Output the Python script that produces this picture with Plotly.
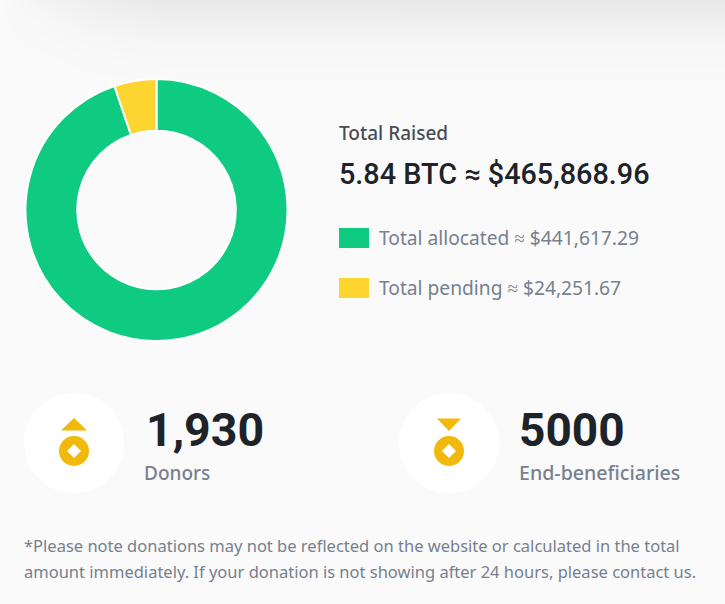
import plotly.graph_objects as go

# donut
labels = ['Total allocated', 'Total pending']
amounts = [441617.29, 24251.67]
colors = ['#0ecb81', '#fdd430']

# page shading at the top, grey levels
shade_x = [0, 40, 90, 160, 725]
shade_y = [0, 12, 25, 40, 60, 85]
shade_z = [
    [250, 244, 238, 233, 232],
    [250, 246, 241, 237, 236],
    [250, 248, 244, 241, 240],
    [250, 249, 247, 245, 245],
    [250, 250, 249, 248, 248],
    [250, 250, 250, 250, 250],
]

title = 'Total Raised'
total = '5.84 BTC ≈ $465,868.96'
legend_text = ['Total allocated ≈ $441,617.29', 'Total pending ≈ $24,251.67']
donors = '1,930'
donors_label = 'Donors'
benef = '5000'
benef_label = 'End-beneficiaries'
note_lines = ['*Please note donations may not be reflected on the website or calculated in the total',
              'amount immediately. If your donation is not showing after 24 hours, please contact us.']

W, H = 725, 604
BODY = 'Noto Sans'
HEAD = 'Roboto'
GOLD = '#f0b90b'
DARK = '#1e2329'
GREY = '#76808f'

fig = go.Figure()
fig.add_trace(go.Heatmap(x=shade_x, y=shade_y, z=shade_z, zmin=0, zmax=255, zsmooth='best',
                         colorscale=[[0, 'rgb(0,0,0)'], [1, 'rgb(255,255,255)']],
                         showscale=False, hoverinfo='skip'))
fig.add_trace(go.Pie(labels=labels, values=amounts, hole=0.605, sort=False, direction='clockwise',
                     rotation=0, textinfo='none', showlegend=False,
                     marker=dict(colors=colors, line=dict(color='white', width=2)),
                     domain=dict(x=[25.5 / W, 287.5 / W], y=[1 - 341 / H, 1 - 79 / H])))


def text(x, y, s, size, color, font=BODY, weight=400):
    fig.add_annotation(x=x, y=y, text=s, xref='x', yref='y', xanchor='left', yanchor='middle',
                       showarrow=False, align='left', borderpad=0,
                       font=dict(family=font, size=size, color=color, weight=weight))


text(338, 133, title, 19, '#474d57', weight=500)
text(337.5, 174, total, 28.8, DARK, font=HEAD, weight=500)
text(378, 237.5, legend_text[0], 19.2, GREY)
text(378, 287.5, legend_text[1], 19.2, GREY)
text(145, 430, donors, 46.5, DARK, font=HEAD, weight=700)
text(143, 473, donors_label, 19, GREY, weight=500)
text(518, 430, benef, 46, DARK, font=HEAD, weight=700)
text(518, 472.5, benef_label, 19.6, GREY, weight=500)
text(23, 545, note_lines[0], 16.5, GREY)
text(23, 571, note_lines[1], 16.5, GREY)

# legend swatches
fig.add_shape(type='rect', x0=339, x1=369, y0=228, y1=248, fillcolor=colors[0], line_width=0)
fig.add_shape(type='rect', x0=339, x1=369, y0=278, y1=298, fillcolor=colors[1], line_width=0)

# stat icons
for cx in (74, 449):
    fig.add_shape(type='circle', x0=cx - 50, x1=cx + 50, y0=393, y1=493, fillcolor='white', line_width=0)
    fig.add_shape(type='circle', x0=cx - 15, x1=cx + 15, y0=436, y1=466, fillcolor=GOLD, line_width=0)
    fig.add_shape(type='path', path=f'M {cx} 444 L {cx + 7} 451 L {cx} 458 L {cx - 7} 451 Z',
                  fillcolor='white', line_width=0)
fig.add_shape(type='path', path='M 61 430.5 L 87 430.5 L 74 418 Z', fillcolor=GOLD, line_width=0)
fig.add_shape(type='path', path='M 437 418.5 L 461 418.5 L 449 431 Z', fillcolor=GOLD, line_width=0)

fig.update_xaxes(range=[0, W], visible=False, fixedrange=True)
fig.update_yaxes(range=[H, 0], visible=False, fixedrange=True)
fig.update_layout(width=W, height=H, margin=dict(l=0, r=0, t=0, b=0), paper_bgcolor='#fafafa',
                  plot_bgcolor='#fafafa', showlegend=False)
fig.write_html("out.html", config=dict(displayModeBar=False),
               post_script="document.body.style.margin='0';document.body.style.overflow='hidden';")
